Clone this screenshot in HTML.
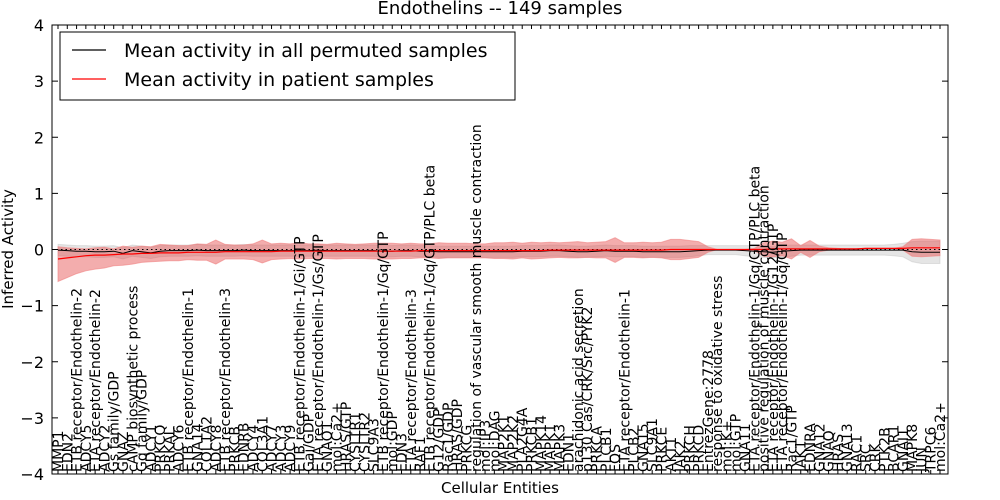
<!DOCTYPE html>
<html><head><meta charset="utf-8"><style>
body{margin:0;background:#fff;}
svg{display:block;font-family:"DejaVu Sans","Liberation Sans",sans-serif;}
</style></head><body>
<svg id="chart" width="1000" height="500" viewBox="0 0 1000 500" xmlns="http://www.w3.org/2000/svg">
<rect x="0" y="0" width="1000" height="500" fill="#fff"/>
<text x="500" y="14" text-anchor="middle" font-size="18">Endothelins -- 149 samples</text>
<g id="bands"></g>
<g id="lines"></g>
<g id="xlabels"></g>
<g id="axes"></g>
<text x="500" y="493" text-anchor="middle" font-size="15">Cellular Entities</text>
<text transform="translate(13,249) rotate(-90)" text-anchor="middle" font-size="15">Inferred Activity</text>
<g>
<rect x="60" y="32" width="455" height="68" fill="#fff" stroke="#000" stroke-width="1"/>
<line x1="72" y1="50" x2="106" y2="50" stroke="#000" stroke-width="1.2"/>
<text x="124" y="57" font-size="19">Mean activity in all permuted samples</text>
<line x1="72" y1="79" x2="106" y2="79" stroke="#f00" stroke-width="1.2"/>
<text x="124" y="86" font-size="19">Mean activity in patient samples</text>
</g>
</svg>
<script>
const categories = ["MMP1","EDN2","ETB receptor/Endothelin-2","ADCY5","ETA receptor/Endothelin-2","ADCY2","Gs family/GDP","GNAZ","cAMP biosynthetic process","Gq family/GDP","ADCY1","PRKCQ","PRKAL","ADCY6","ETB receptor/Endothelin-1","GNA14","COL1A2","ADCY8","ETB receptor/Endothelin-3","PRKCB","EDNRB","ADCY4","COL3A1","ADCY7","ADCY3","ADCY9","ETB receptor/Endothelin-1/Gi/GTP","Gai/GDP","ETA receptor/Endothelin-1/Gs/GTP","GNAO1","mol:Ca2+","HRAS/GTP","CYSLTR1","CYSLTR2","SLC9A3","ETB receptor/Endothelin-1/Gq/GTP","mol:GDP","EDN3","ETA receptor/Endothelin-3","RAF1","ETB receptor/Endothelin-1/Gq/GTP/PLC beta","G12/GDP","Rac1/GDP","HRAS/GDP","PRKCG","regulation of vascular smooth muscle contraction","mol:IP3","mol:DAG","MAP2K1","MAP2K2","PLA2G4A","PRKCB1","MAPK14","MAPK1","MAPK3","EDN1","arachidonic acid secretion","p130 Cas/CRK/Src/PYK2","PRKCA","PLCB1","FOS","ETA receptor/Endothelin-1","PLCB2","GNA15","SLC9A1","PRKCE","AKT1","JAK2","PRKCH","PRKCD","EntrezGene:2778","response to oxidative stress","mol:K+","mol:GTP","GNA11","ETA receptor/Endothelin-1/Gq/GTP/PLC beta","positive regulation of muscle contraction","ETA receptor/Endothelin-1/G12/GTP","ETA receptor/Endothelin-1/Gq/GTP","Rac1/GTP","JAK1","EDNRA","GNA12","GNAQ","HRAS","GNA13","RAC1","SRC","CRK","PTK2B","BCAR1","GNAI1","MAPK8","JUN","TRPC6","mol:Ca2+"];
const yTicks = [-4,-3,-2,-1,0,1,2,3,4];
const redMean = [-0.17,-0.15,-0.13,-0.11,-0.10,-0.10,-0.09,-0.08,-0.08,-0.07,-0.07,-0.06,
-0.06,-0.06,-0.05,-0.05,-0.05,-0.05,-0.04,-0.04,-0.04,-0.04,-0.04,-0.04,
-0.03,-0.03,-0.03,-0.03,-0.03,-0.03,-0.03,-0.03,-0.03,-0.03,-0.03,-0.03,
-0.03,-0.03,-0.03,-0.02,-0.02,-0.02,-0.02,-0.02,-0.02,-0.02,-0.02,-0.02,
-0.02,-0.02,-0.02,-0.02,-0.02,-0.01,-0.01,-0.01,-0.01,-0.01,-0.01,-0.01,
-0.01,-0.01,-0.01,-0.01,-0.01,-0.01,0,0,0,0,0,0,
0,0,0,0,0,0.01,0.01,0.01,0.01,0.01,0.01,0.01,
0.01,0.01,0.01,0.02,0.02,0.02,0.02,0.02,0.03,0.03,0.03,0.03];
const redSpreadUp = [0.22,0.18,0.15,0.12,0.13,0.14,0.10,0.14,0.12,0.13,0.12,0.15,
0.14,0.13,0.12,0.15,0.14,0.22,0.13,0.12,0.12,0.14,0.21,0.14,
0.14,0.13,0.15,0.13,0.13,0.12,0.14,0.13,0.12,0.13,0.14,0.14,
0.14,0.13,0.14,0.12,0.12,0.14,0.13,0.13,0.13,0.12,0.12,0.14,
0.14,0.15,0.13,0.15,0.14,0.14,0.13,0.14,0.15,0.13,0.14,0.15,
0.22,0.13,0.13,0.14,0.13,0.14,0.18,0.18,0.16,0.14,0.05,0.00,
0.00,0.00,0.00,0.02,0.12,0.14,0.12,0.18,0.06,0.15,0.05,0.02,
0.01,0.00,0.00,0.00,0.00,0.00,0.00,0.03,0.15,0.16,0.15,0.14];
const redSpreadDown = [0.40,0.35,0.30,0.27,0.25,0.23,0.20,0.20,0.18,0.16,0.15,0.15,
0.14,0.14,0.13,0.14,0.14,0.21,0.13,0.13,0.13,0.14,0.20,0.14,
0.14,0.13,0.14,0.13,0.13,0.13,0.14,0.13,0.13,0.13,0.14,0.14,
0.14,0.13,0.13,0.13,0.13,0.14,0.13,0.13,0.13,0.13,0.13,0.14,
0.14,0.15,0.13,0.15,0.14,0.14,0.13,0.14,0.14,0.13,0.14,0.14,
0.22,0.13,0.13,0.14,0.13,0.14,0.18,0.18,0.16,0.14,0.05,0.00,
0.00,0.00,0.00,0.02,0.12,0.14,0.12,0.18,0.06,0.15,0.05,0.02,
0.01,0.00,0.00,0.00,0.00,0.00,0.00,0.03,0.15,0.16,0.15,0.14];
const grayMean = [-0.01,-0.02,-0.03,-0.03,-0.04,-0.04,-0.03,-0.07,-0.02,-0.04,-0.06,-0.03,
-0.02,-0.02,-0.02,-0.01,-0.02,-0.02,-0.02,-0.02,-0.01,-0.02,-0.02,-0.02,
-0.02,-0.02,-0.02,-0.02,-0.01,-0.02,-0.02,-0.02,-0.02,-0.02,-0.02,-0.03,
-0.03,-0.02,-0.02,-0.03,-0.03,-0.04,-0.04,-0.04,-0.04,-0.04,-0.04,-0.04,
-0.04,-0.04,-0.03,-0.03,-0.03,-0.02,-0.02,-0.03,-0.04,-0.04,-0.03,-0.02,
-0.03,-0.03,-0.03,-0.04,-0.04,-0.04,-0.04,-0.04,-0.03,-0.02,-0.01,-0.01,
-0.01,-0.01,-0.02,-0.03,-0.04,-0.05,-0.03,-0.02,-0.01,-0.01,-0.01,-0.01,
-0.01,-0.01,-0.01,-0.01,-0.01,-0.01,-0.01,-0.01,-0.04,-0.05,-0.05,-0.05];
const graySpread = [0.10,0.10,0.10,0.10,0.10,0.10,0.10,0.10,0.10,0.10,0.10,0.10,
0.10,0.10,0.10,0.10,0.10,0.10,0.10,0.10,0.10,0.10,0.10,0.10,
0.10,0.10,0.10,0.10,0.10,0.10,0.10,0.10,0.10,0.10,0.10,0.10,
0.10,0.10,0.10,0.10,0.10,0.10,0.10,0.10,0.10,0.10,0.10,0.10,
0.10,0.10,0.10,0.10,0.10,0.10,0.10,0.10,0.10,0.10,0.10,0.10,
0.10,0.10,0.10,0.10,0.10,0.10,0.10,0.10,0.10,0.09,0.08,0.08,
0.08,0.08,0.09,0.10,0.10,0.10,0.10,0.10,0.09,0.09,0.09,0.09,
0.09,0.09,0.09,0.09,0.09,0.09,0.10,0.12,0.18,0.20,0.20,0.20];

const NS = "http://www.w3.org/2000/svg";
const L = 52, R = 948, T = 25, B = 474;
const x0 = 58, x1 = 940;
function xs(i){ return x0 + i*(x1-x0)/(categories.length-1); }
function ys(v){ return T + (4 - v)*(B-T)/8; }
function mk(tag, attrs, parent){ const e=document.createElementNS(NS,tag); for(const k in attrs) e.setAttribute(k,attrs[k]); parent.appendChild(e); return e; }
const bands = document.getElementById('bands');
const lines = document.getElementById('lines');
const axes = document.getElementById('axes');
const xl = document.getElementById('xlabels');

function bandPath(mean, up, down){
  let d = "";
  for(let i=0;i<mean.length;i++) d += (i?"L":"M")+xs(i).toFixed(1)+","+ys(mean[i]+up[i]).toFixed(1);
  for(let i=mean.length-1;i>=0;i--) d += "L"+xs(i).toFixed(1)+","+ys(mean[i]-down[i]).toFixed(1);
  return d+"Z";
}
function linePath(mean){
  let d=""; for(let i=0;i<mean.length;i++) d += (i?"L":"M")+xs(i).toFixed(1)+","+ys(mean[i]).toFixed(1); return d;
}
const gb = mk('path',{d:bandPath(grayMean,graySpread,graySpread),fill:'#cccccc','fill-opacity':'0.5',stroke:'#bbbbbb','stroke-opacity':'0.4'},bands);


const rb = mk('path',{d:bandPath(redMean,redSpreadUp,redSpreadDown),fill:'#e54a4a','fill-opacity':'0.45',stroke:'#f08080','stroke-opacity':'0.6'},bands);


const zl = mk('line',{x1:L,x2:R,y1:ys(0),y2:ys(0),stroke:'#000','stroke-dasharray':'1.5,3','stroke-width':'1'},lines);


const gl = mk('path',{d:linePath(grayMean),fill:'none',stroke:'#000','stroke-width':'1'},lines);


const rl = mk('path',{d:linePath(redMean),fill:'none',stroke:'#f00','stroke-width':'1.2'},lines);



categories.forEach((c,i)=>{
  const t = mk('text',{transform:'translate('+(xs(i)+5).toFixed(1)+','+(B-2)+') rotate(-90)','font-size':'14'},xl);
  t.textContent = c;
  
  
  const tk = mk('line',{x1:xs(i),x2:xs(i),y1:B,y2:B-4,stroke:'#000','stroke-width':'1'},axes);
  
  
  const tk2 = mk('line',{x1:xs(i),x2:xs(i),y1:T,y2:T+4,stroke:'#000','stroke-width':'1'},axes);
  
  
});
yTicks.forEach(v=>{
  const y = ys(v);
  const a = mk('line',{x1:L,x2:L+6,y1:y,y2:y,stroke:'#000'},axes);
  
  
  const b = mk('line',{x1:R-6,x2:R,y1:y,y2:y,stroke:'#000'},axes);
  
  
  const t = mk('text',{x:L-8,y:y+6,'text-anchor':'end','font-size':'16'},axes);
  t.textContent = (v<0?'\u2212':'')+Math.abs(v);
  
  
});
const frame = mk('rect',{x:L,y:T,width:R-L,height:B-T,fill:'none',stroke:'#000','stroke-width':'1'},axes);


</script>
</body></html>
